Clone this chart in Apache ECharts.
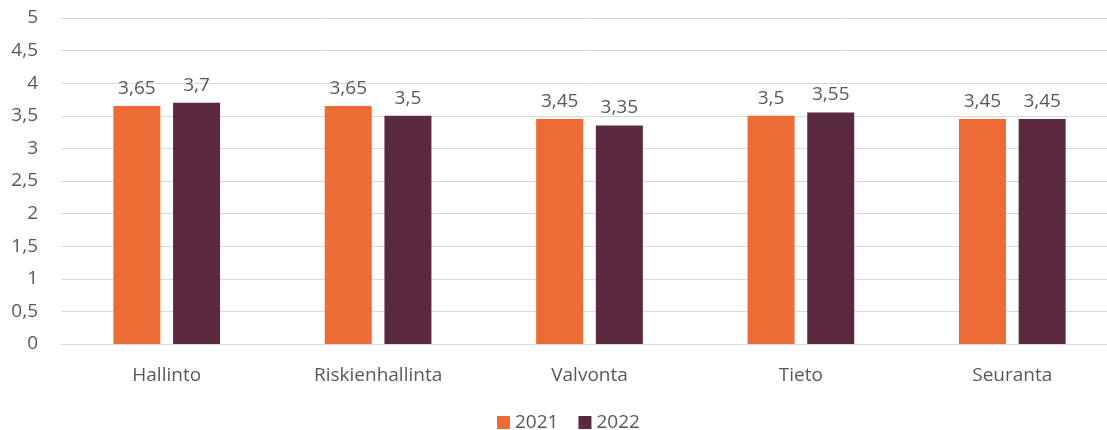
<!DOCTYPE html>
<html>
<head>
<meta charset="utf-8">
<script src="https://cdn.jsdelivr.net/npm/echarts@6/dist/echarts.min.js"></script>
<style>
  html, body { margin: 0; padding: 0; background: #fff; }
  #chart { width: 1107px; height: 430px; }
</style>
</head>
<body>
<div id="chart"></div>
<script>
var categories = ['Hallinto', 'Riskienhallinta', 'Valvonta', 'Tieto', 'Seuranta'];
var values2021 = [3.65, 3.65, 3.45, 3.5, 3.45];
var values2022 = [3.7, 3.5, 3.35, 3.55, 3.45];
var seriesNames = ['2021', '2022'];
var colors = ['#ED6C35', '#5B2A40'];

// suomalainen desimaalipilkku
function fi(v) {
  return String(v).replace('.', ',');
}

var font = 'Open Sans';
var textColor = '#595959';

var option = {
  animation: false,
  color: colors,
  textStyle: { fontFamily: font },
  grid: { left: 61, width: 1057, top: 18, bottom: 86, outerBoundsMode: 'none' },
  legend: {
    top: 408,
    left: 492,
    itemWidth: 13,
    itemHeight: 13,
    itemGap: 20,
    icon: 'rect',
    textStyle: { color: textColor, fontSize: 19, fontFamily: font },
    data: seriesNames
  },
  xAxis: {
    type: 'category',
    data: categories,
    axisLine: { lineStyle: { color: '#d9d9d9' } },
    axisTick: { show: false },
    axisLabel: { color: textColor, fontSize: 19, margin: 22, fontFamily: font }
  },
  yAxis: {
    type: 'value',
    min: 0,
    max: 5,
    interval: 0.5,
    axisLine: { show: false },
    axisTick: { show: false },
    axisLabel: {
      color: textColor, fontSize: 19, margin: 23, fontFamily: font,
      formatter: function (v) { return fi(v); }
    },
    splitLine: { lineStyle: { color: '#d9d9d9' } }
  },
  series: [values2021, values2022].map(function (vals, i) {
    return {
      name: seriesNames[i],
      type: 'bar',
      data: vals,
      barWidth: 47,
      barGap: '27%',
      label: {
        show: true,
        position: 'top',
        distance: 8,
        color: textColor,
        fontSize: 19,
        fontFamily: font,
        formatter: function (p) { return fi(p.value); }
      }
    };
  })
};

var myChart = echarts.init(document.getElementById('chart'));
myChart.setOption(option);
</script>
</body>
</html>
